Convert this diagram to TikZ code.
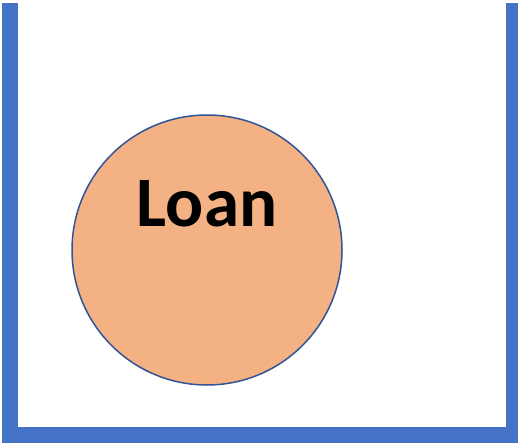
\documentclass[tikz,border=0pt]{standalone}
\usepackage{fontspec}
\setmainfont{Carlito}
\definecolor{wallblue}{HTML}{4472C4}
\definecolor{loanfill}{HTML}{F4B183}
\definecolor{loanedge}{HTML}{2F5597}
\tikzset{
  wall/.style={draw=wallblue,line width=16pt,miter limit=10},
  pool/.style={circle,draw=loanedge,fill=loanfill,line width=1.5pt,minimum size=270pt,inner sep=0pt},
  poollabel/.style={font=\fontsize{71}{71}\selectfont\bfseries,text=black,inner sep=0pt}
}
\begin{document}
\begin{tikzpicture}[x=1pt,y=-1pt]
\useasboundingbox (0,0) rectangle (518,443);
\draw[wall] (10,3)--(10,435)--(514,435)--(514,3);
\node[pool] (loan) at (207,250) {};
\node[poollabel,anchor=base] (loantext) at (207,226) {Loan};
\end{tikzpicture}
\end{document}
